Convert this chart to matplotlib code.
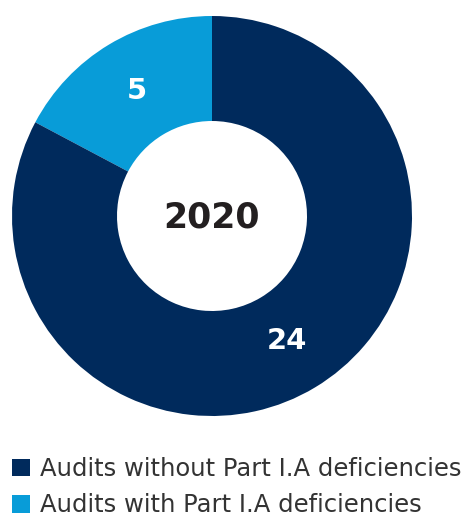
import matplotlib.pyplot as plt
from matplotlib.patches import Patch

categories = ["Audits with Part I.A deficiencies", "Audits without Part I.A deficiencies"]
values = [5, 24]
colors = ["#089CD8", "#002A5C"]
center_label = "2020"

W, H = 466, 516
fig = plt.figure(figsize=(W / 100, H / 100), dpi=100)
fig.patch.set_facecolor("white")

# pie area: center (212, 216) px, radius 200 px
ax = fig.add_axes([12 / W, (H - 416) / H, 400 / W, 400 / H])
wedges, texts = ax.pie(values, colors=colors, startangle=90, counterclock=True,
                       radius=1.0, labels=[str(v) for v in values], labeldistance=0.73,
                       wedgeprops=dict(width=0.525, linewidth=0),
                       textprops=dict(color="white", fontsize=21, fontweight="bold",
                                      family="DejaVu Sans", ha="center", va="center"))
ax.set_xlim(-1, 1)
ax.set_ylim(-1, 1)
ax.set_aspect("equal")
ax.axis("off")
ax.text(0, -0.01, center_label, ha="center", va="center", fontsize=25,
        fontweight="bold", color="#231F20", family="DejaVu Sans")

# legend (without first, then with)
handles = [Patch(facecolor=colors[1], edgecolor="none"),
           Patch(facecolor=colors[0], edgecolor="none")]
leg = fig.legend(handles, [categories[1], categories[0]],
                 loc="upper left", bbox_to_anchor=(12 / W, 1 - 457 / H),
                 frameon=False, fontsize=17.5, handlelength=0.75, handleheight=0.75,
                 handletextpad=0.4, labelspacing=0.5, borderpad=0, borderaxespad=0)
for t in leg.get_texts():
    t.set_color("#333333")

fig.savefig("out.png", dpi=100)
